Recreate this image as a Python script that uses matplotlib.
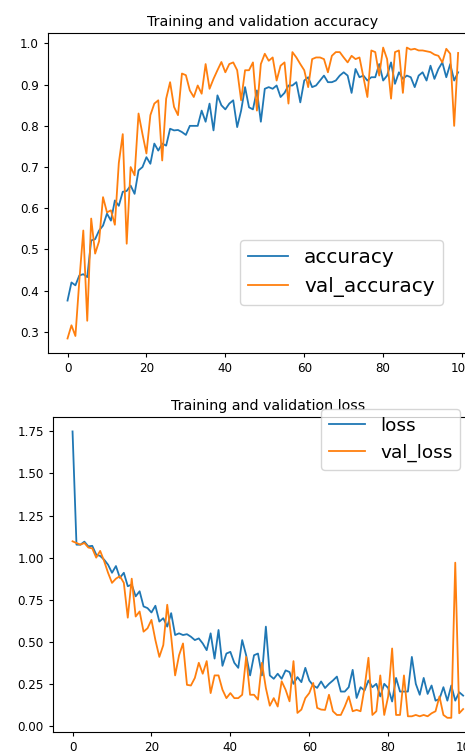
import numpy as np
import matplotlib
matplotlib.use("Agg")
import matplotlib.pyplot as plt

# values (100 epochs)
accuracy = [0.376, 0.42, 0.413, 0.437, 0.44, 0.433, 0.522, 0.525, 0.546, 0.558,
            0.587, 0.57, 0.619, 0.606, 0.64, 0.642, 0.655, 0.635, 0.692, 0.70,
            0.724, 0.708, 0.757, 0.74, 0.757, 0.752, 0.793, 0.789, 0.79, 0.785,
            0.778, 0.80, 0.80, 0.80, 0.837, 0.81, 0.854, 0.789, 0.874, 0.85,
            0.84, 0.854, 0.862, 0.797, 0.837, 0.894, 0.845, 0.84, 0.886, 0.81,
            0.89, 0.894, 0.89, 0.898, 0.87, 0.88, 0.898, 0.898, 0.906, 0.857,
            0.91, 0.918, 0.894, 0.898, 0.91, 0.922, 0.906, 0.906, 0.91, 0.922,
            0.93, 0.922, 0.88, 0.938, 0.918, 0.922, 0.91, 0.918, 0.918, 0.95,
            0.91, 0.922, 0.954, 0.902, 0.93, 0.914, 0.922, 0.918, 0.894, 0.922,
            0.93, 0.91, 0.946, 0.914, 0.938, 0.954, 0.918, 0.95, 0.91, 0.93]
val_accuracy = [0.284, 0.316, 0.29, 0.425, 0.546, 0.327, 0.575, 0.49, 0.52, 0.627,
                0.59, 0.595, 0.56, 0.71, 0.78, 0.514, 0.70, 0.68, 0.83, 0.78,
                0.733, 0.826, 0.854, 0.862, 0.716, 0.866, 0.906, 0.846, 0.826, 0.927,
                0.923, 0.886, 0.87, 0.898, 0.878, 0.95, 0.89, 0.914, 0.935, 0.955,
                0.93, 0.95, 0.954, 0.935, 0.862, 0.935, 0.935, 0.954, 0.837, 0.95,
                0.975, 0.958, 0.966, 0.91, 0.946, 0.954, 0.854, 0.979, 0.966, 0.95,
                0.935, 0.894, 0.962, 0.966, 0.966, 0.962, 0.93, 0.97, 0.979, 0.979,
                0.966, 0.954, 0.97, 0.962, 0.966, 0.918, 0.87, 0.983, 0.979, 0.922,
                0.99, 0.962, 0.866, 0.979, 0.983, 0.88, 0.99, 0.985, 0.987, 0.983,
                0.983, 0.981, 0.979, 0.973, 0.97, 0.954, 0.987, 0.975, 0.80, 0.977]
loss = [1.75, 1.077, 1.077, 1.095, 1.067, 1.07, 1.018, 1.01, 0.988, 0.958,
        0.91, 0.95, 0.88, 0.91, 0.83, 0.84, 0.77, 0.80, 0.71, 0.70,
        0.674, 0.714, 0.62, 0.64, 0.59, 0.67, 0.54, 0.55, 0.54, 0.545,
        0.53, 0.51, 0.52, 0.49, 0.45, 0.55, 0.40, 0.57, 0.357, 0.43,
        0.44, 0.375, 0.345, 0.51, 0.42, 0.30, 0.42, 0.43, 0.30, 0.59,
        0.30, 0.28, 0.31, 0.28, 0.33, 0.32, 0.25, 0.29, 0.26, 0.345,
        0.27, 0.24, 0.226, 0.264, 0.225, 0.25, 0.27, 0.293, 0.204, 0.204,
        0.23, 0.333, 0.166, 0.23, 0.21, 0.27, 0.23, 0.25, 0.175, 0.25,
        0.225, 0.145, 0.285, 0.204, 0.204, 0.204, 0.41, 0.25, 0.185, 0.285,
        0.19, 0.24, 0.15, 0.16, 0.23, 0.15, 0.24, 0.15, 0.20, 0.18]
val_loss = [1.097, 1.087, 1.077, 1.087, 1.06, 1.055, 1.0, 1.04, 0.98, 0.91,
            0.85, 0.875, 0.89, 0.85, 0.643, 0.875, 0.65, 0.68, 0.56, 0.58,
            0.63, 0.51, 0.41, 0.48, 0.72, 0.53, 0.30, 0.42, 0.49, 0.244,
            0.24, 0.285, 0.375, 0.31, 0.385, 0.195, 0.30, 0.30, 0.215, 0.165,
            0.195, 0.165, 0.165, 0.185, 0.41, 0.185, 0.185, 0.156, 0.375, 0.225,
            0.12, 0.165, 0.115, 0.265, 0.215, 0.146, 0.385, 0.077, 0.097, 0.165,
            0.195, 0.255, 0.107, 0.097, 0.095, 0.185, 0.087, 0.065, 0.065, 0.115,
            0.175, 0.087, 0.095, 0.087, 0.225, 0.405, 0.065, 0.087, 0.30, 0.065,
            0.175, 0.46, 0.065, 0.065, 0.30, 0.057, 0.057, 0.065, 0.057, 0.065,
            0.057, 0.075, 0.087, 0.175, 0.065, 0.048, 0.048, 0.97, 0.075, 0.10]
epochs = np.arange(len(accuracy))

fig = plt.figure(figsize=(4.65, 7.54), dpi=100)

# both panels run past the right edge, like the cropped screenshot
ax1 = fig.add_axes([0.1032, 0.5318, 0.924, 0.4244])
ax1.plot(epochs, accuracy, color='#1f77b4', lw=1.3, label='accuracy')
ax1.plot(epochs, val_accuracy, color='#ff7f0e', lw=1.3, label='val_accuracy')
ax1.set_title('Training and validation accuracy', fontsize=10.3, pad=5)
ax1.tick_params(labelsize=8.6, length=3)
ax1.legend(loc='upper left', bbox_to_anchor=(0.447, 0.353), borderaxespad=0,
           fontsize=14.4)

ax2 = fig.add_axes([0.114, 0.029, 0.924, 0.4178])
ax2.plot(epochs, loss, color='#1f77b4', lw=1.3, label='loss')
ax2.plot(epochs, val_loss, color='#ff7f0e', lw=1.3, label='val_loss')
ax2.set_title('Training and validation loss', fontsize=10.3, pad=5)
ax2.tick_params(labelsize=8.6, length=3)
ax2.legend(loc='upper left', bbox_to_anchor=(0.624, 1.025), borderaxespad=0,
           fontsize=13.3)

fig.savefig('out.png', dpi=100)
